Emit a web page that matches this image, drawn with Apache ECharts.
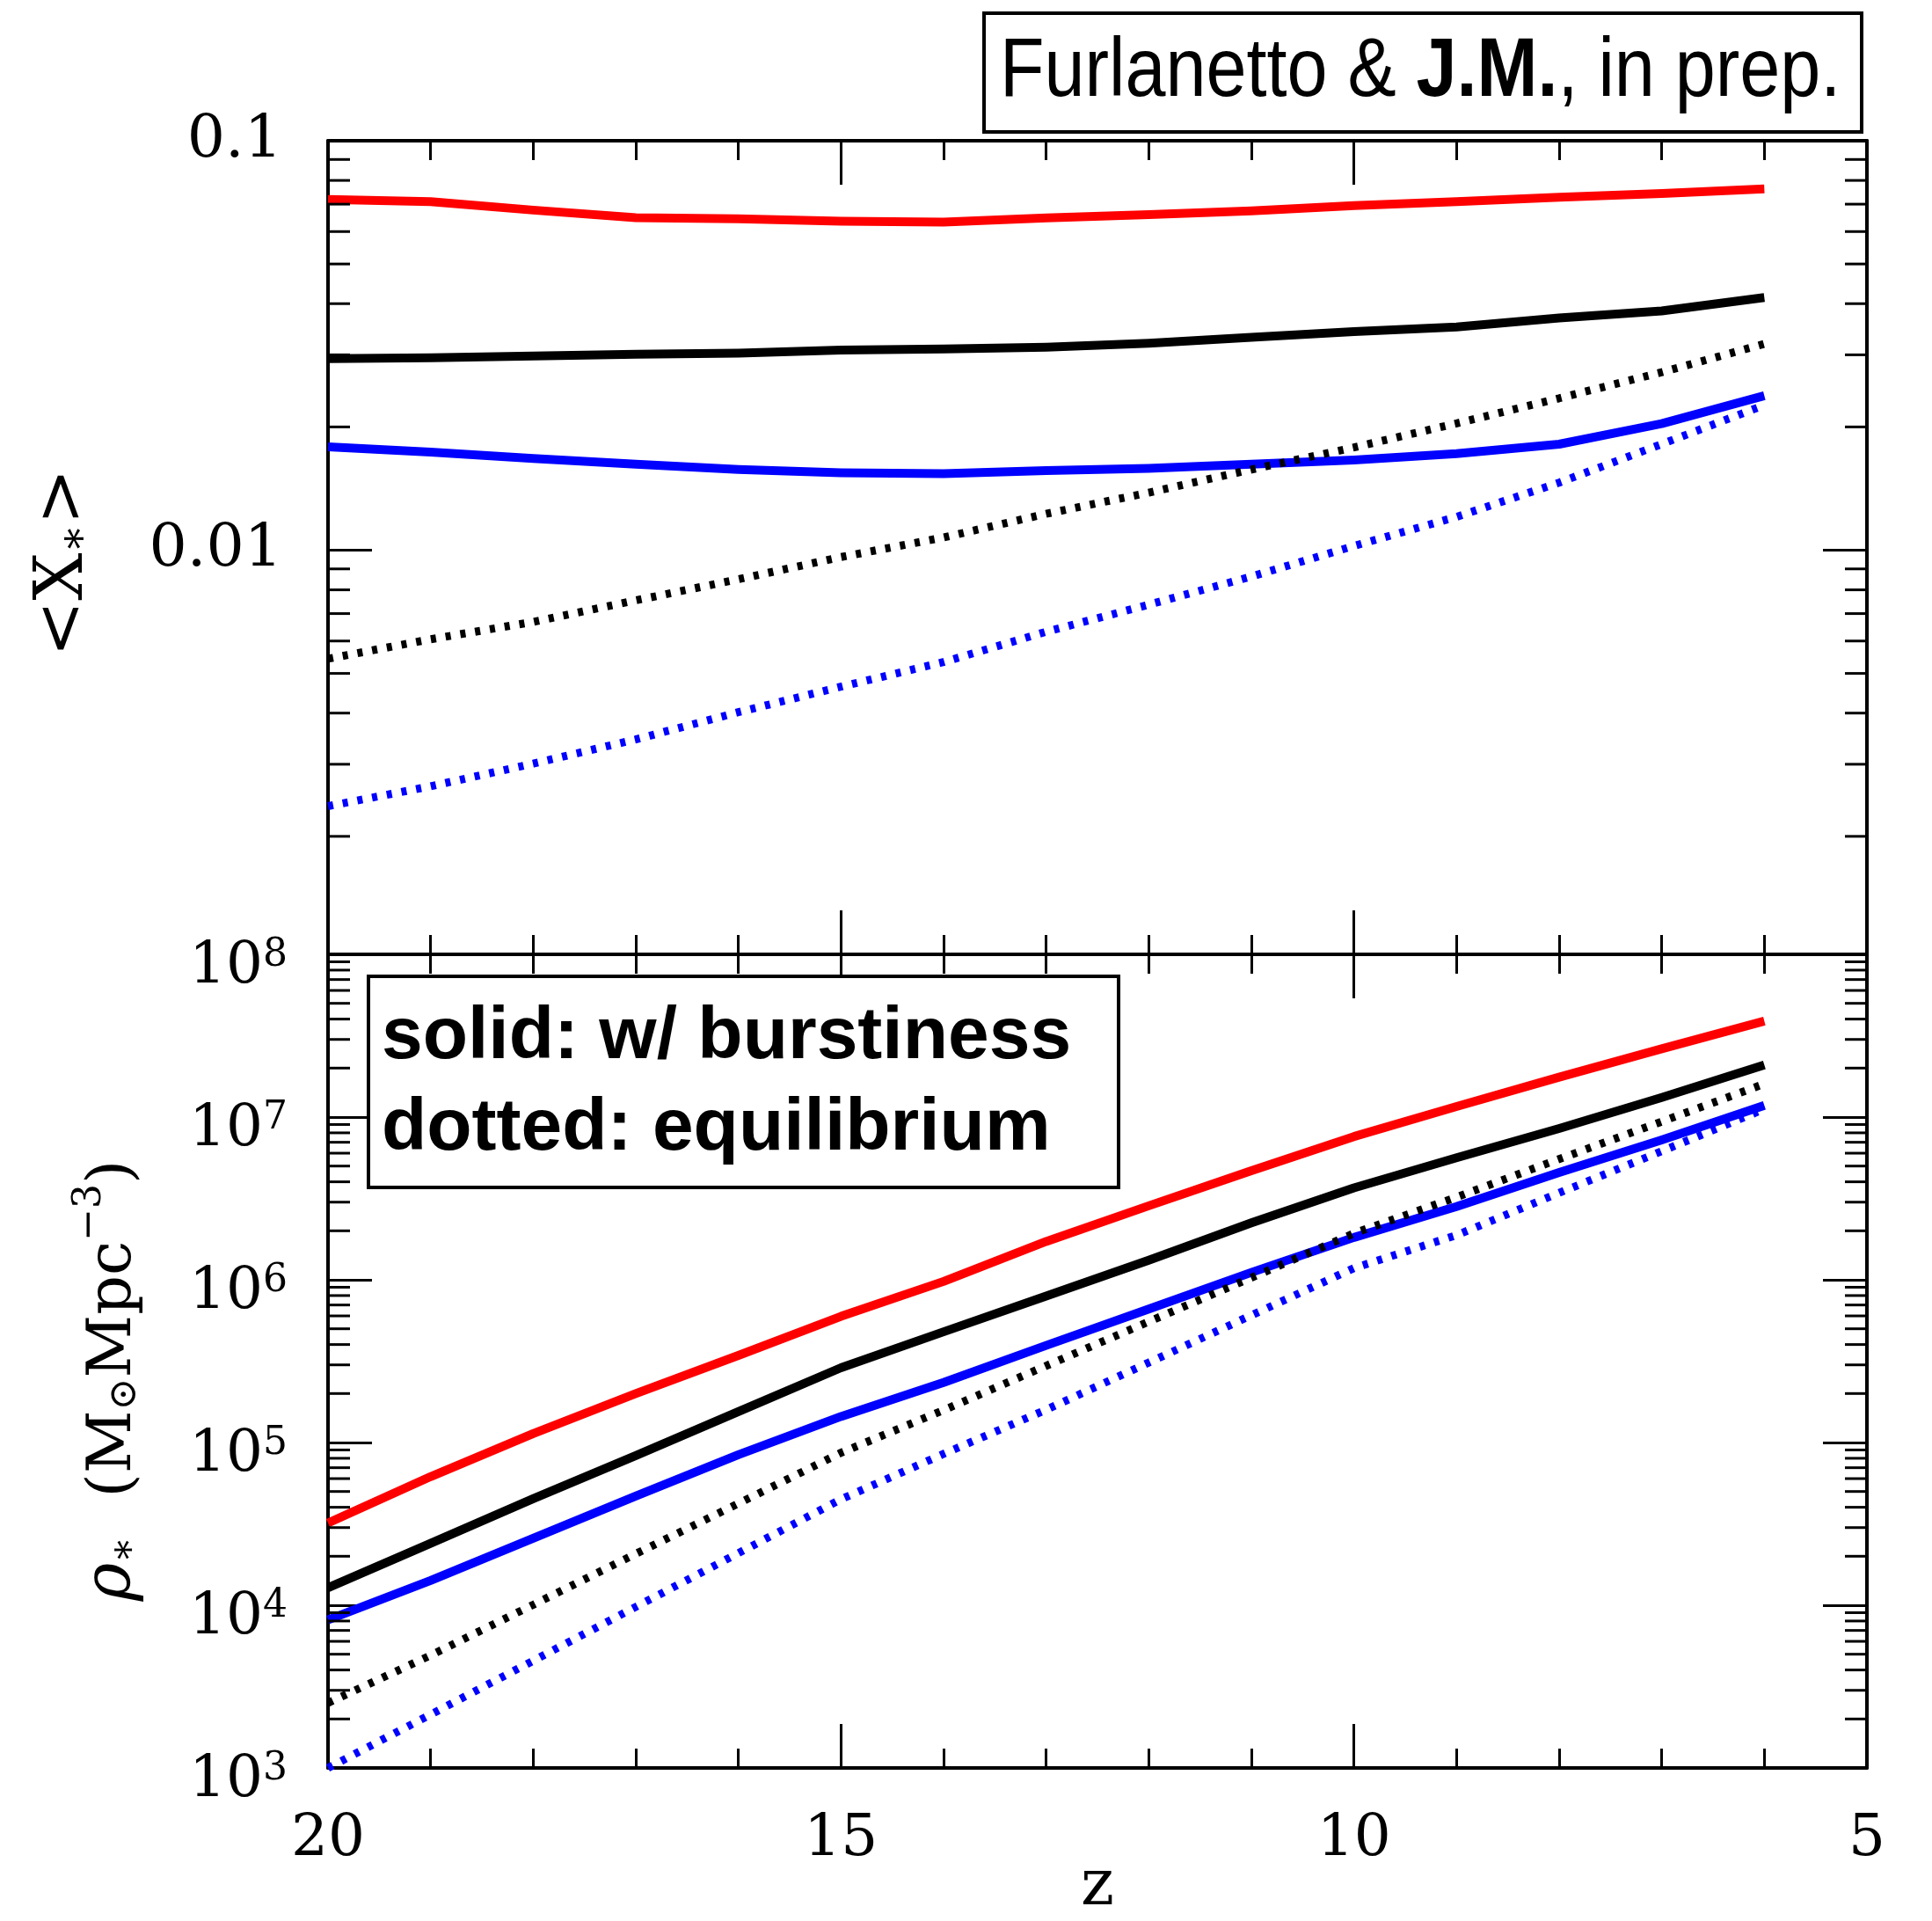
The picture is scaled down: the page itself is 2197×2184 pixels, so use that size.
<!DOCTYPE html>
<html>
<head>
<meta charset="utf-8">
<title>Stellar fraction and stellar mass density vs redshift</title>
<script src="https://cdn.jsdelivr.net/npm/echarts@6/dist/echarts.min.js"></script>
<style>
  html, body { margin: 0; padding: 0; background: #ffffff; }
  #chart { width: 2197px; height: 2184px; }
</style>
</head>
<body>
<div id="chart"></div>
<script>
// Redshift samples shared by every curve
const redshift = [20, 19, 18, 17, 16, 15, 14, 13, 12, 11, 10, 9, 8, 7, 6];

// <X*>: mean stellar fraction (upper panel)
const xStarRed       = [0.0719, 0.0710, 0.0677, 0.0649, 0.0645, 0.0636, 0.0633, 0.0648, 0.0660, 0.0674, 0.0694, 0.0710, 0.0728, 0.0743, 0.0763];
const xStarBlack     = [0.02935, 0.0295, 0.0298, 0.0301, 0.0303, 0.0308, 0.0310, 0.0313, 0.0320, 0.0331, 0.0342, 0.0351, 0.0369, 0.0384, 0.0414];
const xStarBlue      = [0.01789, 0.01736, 0.01675, 0.01622, 0.01574, 0.01546, 0.01537, 0.01565, 0.01584, 0.01622, 0.01661, 0.01720, 0.01815, 0.02038, 0.02384];
const xStarBlackEq   = [0.00543, 0.00606, 0.00668, 0.00754, 0.00849, 0.00962, 0.01074, 0.01227, 0.01382, 0.01574, 0.01782, 0.0204, 0.0235, 0.0272, 0.0319];
const xStarBlueEq    = [0.00237, 0.00265, 0.00301, 0.00345, 0.00402, 0.00464, 0.00533, 0.00632, 0.00736, 0.00862, 0.01024, 0.01206, 0.01462, 0.01816, 0.02261];

// rho*: stellar mass density in Msun Mpc^-3 (lower panel)
const rhoStarRed     = [3.20e4, 6.17e4, 1.135e5, 2.00e5, 3.43e5, 5.96e5, 9.77e5, 1.72e6, 2.85e6, 4.68e6, 7.59e6, 1.16e7, 1.76e7, 2.63e7, 3.89e7];
const rhoStarBlack   = [1.28e4, 2.40e4, 4.52e4, 8.32e4, 1.55e5, 2.88e5, 4.79e5, 7.94e5, 1.32e6, 2.24e6, 3.67e6, 5.62e6, 8.51e6, 1.32e7, 2.09e7];
const rhoStarBlue    = [8.13e3, 1.42e4, 2.58e4, 4.69e4, 8.41e4, 1.445e5, 2.34e5, 3.95e5, 6.61e5, 1.11e6, 1.82e6, 2.82e6, 4.57e6, 7.24e6, 1.18e7];
const rhoStarBlackEq = [2.51e3, 4.92e3, 1.007e4, 2.07e4, 4.22e4, 8.65e4, 1.58e5, 2.96e5, 5.53e5, 1.03e6, 1.93e6, 3.22e6, 5.52e6, 9.38e6, 1.60e7];
const rhoStarBlueEq  = [1.00e3, 2.13e3, 4.56e3, 9.77e3, 2.09e4, 4.48e4, 8.51e4, 1.59e5, 3.10e5, 6.05e5, 1.18e6, 1.88e6, 3.42e6, 6.17e6, 1.12e7];

// Axis ranges and tick labels
const zRange = [5, 20];
const xStarRange = [0.00103, 0.1];
const rhoRange = [1e3, 1e8];
const xStarTickLabels = { '-1': '0.1', '-2': '0.01' };
const rhoTickExponents = [3, 4, 5, 6, 7, 8];

const SERIF = '"DejaVu Serif", serif';
const SANS = '"Liberation Sans", Arial, Helvetica, sans-serif';
const INK = '#000000';
const MINOR_LEN = 25;

// Minor tick values on a log axis: 2..9 times each decade inside the range
function logMinors(lo, hi) {
  const out = [];
  for (let e = Math.floor(Math.log10(lo)); e < Math.ceil(Math.log10(hi)); e++) {
    for (let m = 2; m <= 9; m++) {
      const v = m * Math.pow(10, e);
      if (v > lo && v < hi) out.push(v);
    }
  }
  return out;
}

function xAxisDef(gridIndex, position, showLabels) {
  const ax = {
    type: 'value', gridIndex, position,
    min: zRange[0], max: zRange[1], interval: 5, inverse: true,
    axisLine: { show: true, onZero: false, lineStyle: { color: INK, width: 4 } },
    axisTick: { show: true, inside: true, length: 50, lineStyle: { color: INK, width: 3 } },
    minorTick: { show: true, splitNumber: 5, length: 22, lineStyle: { color: INK, width: 3 } },
    splitLine: { show: false }, minorSplitLine: { show: false },
    axisLabel: {
      show: showLabels, margin: 49, color: INK, fontFamily: SERIF, fontSize: 66,
      showMinLabel: true, showMaxLabel: true
    }
  };
  if (showLabels) {
    ax.name = 'z';
    ax.nameLocation = 'middle';
    ax.nameGap = 100;
    ax.nameMoveOverlap = false;
    ax.nameTextStyle = { fontFamily: SERIF, fontSize: 72, color: INK };
  }
  return ax;
}

function yAxisDef(gridIndex, position, range, labels, splitNumber) {
  return {
    type: 'log', logBase: 10, gridIndex, position,
    min: range[0], max: range[1], splitNumber: splitNumber,
    axisLine: { show: true, onZero: false, lineStyle: { color: INK, width: 4 } },
    axisTick: { show: true, inside: true, length: 50, lineStyle: { color: INK, width: 3 } },
    splitLine: { show: false },
    axisLabel: labels || { show: false }
  };
}

const xStarLabels = {
  show: true, margin: 52, color: INK, fontFamily: SERIF, fontSize: 68,
  padding: [16, 0, 0, 0],
  showMinLabel: true, showMaxLabel: true,
  formatter: function (v) {
    const k = Math.log10(v);
    const r = Math.round(k);
    if (Math.abs(k - r) > 1e-6) return '';
    return xStarTickLabels[String(r)] || '';
  }
};

const rhoLabels = {
  show: true, margin: 46, color: INK, fontFamily: SERIF,
  padding: [28, 0, 0, 0],
  showMinLabel: true, showMaxLabel: true,
  formatter: function (v) {
    const k = Math.log10(v);
    const r = Math.round(k);
    if (Math.abs(k - r) > 1e-6 || rhoTickExponents.indexOf(r) < 0) return '';
    return '{b|10}{s|' + r + '}';
  },
  rich: {
    b: { fontFamily: SERIF, fontSize: 66, lineHeight: 68, color: INK, verticalAlign: 'bottom' },
    s: { fontFamily: SERIF, fontSize: 44, lineHeight: 44, color: INK, verticalAlign: 'top' }
  }
};

function curve(name, values, color, dotted, axisIndex) {
  return {
    name, type: 'line', xAxisIndex: axisIndex, yAxisIndex: axisIndex,
    data: redshift.map((z, i) => [z, values[i]]),
    showSymbol: false, symbol: 'none', silent: true, animation: false,
    z: dotted ? 4 : 3,
    lineStyle: dotted
      ? { color, width: 9, type: [6, 11], cap: 'butt' }
      : { color, width: 10, join: 'round', cap: 'butt' }
  };
}

// Short inward ticks on both vertical frame edges at the log minor values
function minorTicks(axisIndex, values) {
  return {
    type: 'custom', xAxisIndex: axisIndex, yAxisIndex: axisIndex,
    silent: true, animation: false, z: 5,
    data: values.map(v => [zRange[1], v]),
    encode: { x: 0, y: 1 },
    renderItem: function (params, api) {
      const v = api.value(1);
      const l = api.coord([zRange[1], v]);
      const r = api.coord([zRange[0], v]);
      return {
        type: 'group',
        children: [
          { type: 'line', shape: { x1: l[0], y1: l[1], x2: l[0] + MINOR_LEN, y2: l[1] }, style: { stroke: INK, lineWidth: 3 } },
          { type: 'line', shape: { x1: r[0], y1: r[1], x2: r[0] - MINOR_LEN, y2: r[1] }, style: { stroke: INK, lineWidth: 3 } }
        ]
      };
    }
  };
}

const yTop = yAxisDef(0, 'left', xStarRange, xStarLabels, 2);
yTop.name = '{t|<X}{sub|∗}{e|>}';
yTop.nameLocation = 'middle';
yTop.nameGap = 262;
yTop.nameRotate = 90;
yTop.nameTextStyle = {
  rich: {
    t: { fontFamily: SERIF, fontSize: 76, color: INK, lineHeight: 84, verticalAlign: 'bottom' },
    e: { fontFamily: SERIF, fontSize: 76, color: INK, lineHeight: 84, verticalAlign: 'bottom', padding: [0, 34, 0, 0] },
    sub: { fontFamily: SERIF, fontSize: 48, color: INK, lineHeight: 84, verticalAlign: 'bottom' }
  }
};

const yBottom = yAxisDef(1, 'left', rhoRange, rhoLabels, 5);
yBottom.name = '{r|ρ}{sub|∗}{t|  (M}{sub|⊙}{t|Mpc}{sup|−3}{e|)}';
yBottom.nameLocation = 'middle';
yBottom.nameGap = 208;
yBottom.nameRotate = 90;
yBottom.nameTextStyle = {
  rich: {
    r: { fontFamily: SERIF, fontStyle: 'italic', fontSize: 74, color: INK, lineHeight: 84, verticalAlign: 'bottom' },
    t: { fontFamily: SERIF, fontSize: 70, color: INK, lineHeight: 84, verticalAlign: 'bottom' },
    e: { fontFamily: SERIF, fontSize: 70, color: INK, lineHeight: 84, verticalAlign: 'bottom', padding: [0, 44, 0, 0] },
    sub: { fontFamily: SERIF, fontSize: 44, color: INK, lineHeight: 70, verticalAlign: 'bottom' },
    sup: { fontFamily: SERIF, fontSize: 44, color: INK, lineHeight: 44, verticalAlign: 'top' }
  }
};

const option = {
  backgroundColor: '#ffffff',
  animation: false,
  grid: [
    { left: 373, top: 160, width: 1750, height: 925, containLabel: false, outerBoundsMode: 'none' },
    { left: 373, top: 1085, width: 1750, height: 925, containLabel: false, outerBoundsMode: 'none' }
  ],
  // indices 0/1: bottom axes of each panel, 2/3: mirrored top axes
  xAxis: [
    xAxisDef(0, 'bottom', false),
    xAxisDef(1, 'bottom', true),
    xAxisDef(0, 'top', false),
    xAxisDef(1, 'top', false)
  ],
  // indices 0/1: labelled left axes, 2/3: mirrored right axes
  yAxis: [
    yTop,
    yBottom,
    yAxisDef(0, 'right', xStarRange, null, 2),
    yAxisDef(1, 'right', rhoRange, null, 5)
  ],
  series: [
    curve('X red', xStarRed, '#ff0000', false, 0),
    curve('X black', xStarBlack, '#000000', false, 0),
    curve('X blue', xStarBlue, '#0000ff', false, 0),
    curve('X black equilibrium', xStarBlackEq, '#000000', true, 0),
    curve('X blue equilibrium', xStarBlueEq, '#0000ff', true, 0),
    curve('rho red', rhoStarRed, '#ff0000', false, 1),
    curve('rho black', rhoStarBlack, '#000000', false, 1),
    curve('rho blue', rhoStarBlue, '#0000ff', false, 1),
    curve('rho black equilibrium', rhoStarBlackEq, '#000000', true, 1),
    curve('rho blue equilibrium', rhoStarBlueEq, '#0000ff', true, 1),
    minorTicks(0, logMinors(xStarRange[0], xStarRange[1])),
    minorTicks(1, logMinors(rhoRange[0], rhoRange[1]))
  ],
  graphic: [
    {
      type: 'rect', left: 1117, top: 13, z: 10,
      shape: { width: 998, height: 135 },
      style: { fill: '#ffffff', stroke: INK, lineWidth: 4 }
    },
    {
      type: 'text', x: 1137, y: 83, z: 11, scaleX: 0.88,
      style: {
        text: '{n|Furlanetto & }{b|J.M.}{n|, in prep.}',
        verticalAlign: 'middle', align: 'left',
        rich: {
          n: { fontFamily: SANS, fontSize: 94, fill: INK },
          b: { fontFamily: SANS, fontSize: 94, fontWeight: 'bold', fill: INK }
        }
      }
    },
    {
      type: 'rect', left: 417, top: 1108, z: 10,
      shape: { width: 853, height: 240 },
      style: { fill: '#ffffff', stroke: INK, lineWidth: 4 }
    },
    {
      type: 'text', x: 434, y: 1180, z: 11,
      style: { text: 'solid: w/ burstiness', fontFamily: SANS, fontSize: 84, fontWeight: 'bold', fill: INK, verticalAlign: 'middle', align: 'left' }
    },
    {
      type: 'text', x: 434, y: 1284, z: 11,
      style: { text: 'dotted: equilibrium', fontFamily: SANS, fontSize: 84, fontWeight: 'bold', fill: INK, verticalAlign: 'middle', align: 'left' }
    }
  ]
};

const chart = echarts.init(document.getElementById('chart'), null, { renderer: 'canvas' });
chart.setOption(option);
</script>
</body>
</html>
